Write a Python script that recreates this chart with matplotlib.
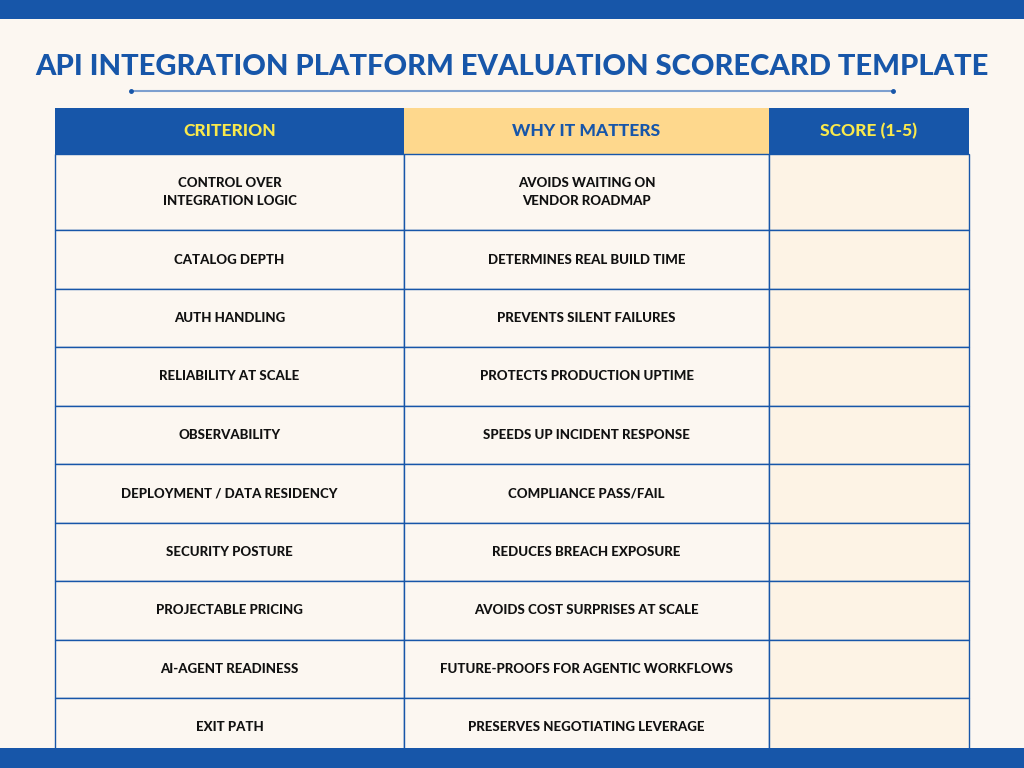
import matplotlib.pyplot as plt
from matplotlib.patches import Rectangle

title = "API INTEGRATION PLATFORM EVALUATION SCORECARD TEMPLATE"
headers = ["CRITERION", "WHY IT MATTERS", "SCORE (1-5)"]
criteria = ["CONTROL OVER\nINTEGRATION LOGIC", "CATALOG DEPTH", "AUTH HANDLING",
            "RELIABILITY AT SCALE", "OBSERVABILITY", "DEPLOYMENT / DATA RESIDENCY",
            "SECURITY POSTURE", "PROJECTABLE PRICING", "AI-AGENT READINESS", "EXIT PATH"]
reasons = ["AVOIDS WAITING ON\nVENDOR ROADMAP", "DETERMINES REAL BUILD TIME",
           "PREVENTS SILENT FAILURES", "PROTECTS PRODUCTION UPTIME",
           "SPEEDS UP INCIDENT RESPONSE", "COMPLIANCE PASS/FAIL",
           "REDUCES BREACH EXPOSURE", "AVOIDS COST SURPRISES AT SCALE",
           "FUTURE-PROOFS FOR AGENTIC WORKFLOWS", "PRESERVES NEGOTIATING LEVERAGE"]

BLUE = "#1756a9"
BG = "#fcf7f1"
col_x = [55, 404, 769, 969]
row_y = [108, 154, 230, 289, 347, 406, 464, 523, 581, 640, 698, 760]
fam = ["Lato", "DejaVu Sans"]

fig = plt.figure(figsize=(10.24, 7.68), dpi=100, facecolor=BG)
ax = fig.add_axes([0, 0, 1, 1])
ax.set_xlim(0, 1024)
ax.set_ylim(768, 0)
ax.axis("off")

ax.text(512, 67, title, ha="center", va="center", color=BLUE, fontsize=21,
        fontweight="black", family=fam)
ax.plot([131, 893], [91, 91], color="#7d9fcf", lw=1.5)
ax.plot([131, 893], [91, 91], "o", color=BLUE, ms=2.5)

# header
hdr_fill = [BLUE, "#fed88d", BLUE]
hdr_txt = ["#f9e94c", BLUE, "#f9e94c"]
for i, h in enumerate(headers):
    ax.add_patch(Rectangle((col_x[i], row_y[0]), col_x[i+1]-col_x[i], row_y[1]-row_y[0],
                           facecolor=hdr_fill[i], edgecolor="none"))
    ax.text((col_x[i]+col_x[i+1])/2, (row_y[0]+row_y[1])/2, h, ha="center", va="center",
            color=hdr_txt[i], fontsize=12.5, fontweight="black", family=fam)

# body
for r in range(len(criteria)):
    y0, y1 = row_y[r+1], row_y[r+2]
    for c in range(3):
        fill = "#fdf3e5" if c == 2 else BG
        ax.add_patch(Rectangle((col_x[c], y0), col_x[c+1]-col_x[c], y1-y0,
                               facecolor=fill, edgecolor=BLUE, lw=1))
    ym = (y0 + 58 / 2) if r == len(criteria)-1 else (y0+y1)/2
    for c, txt in enumerate([criteria[r], reasons[r]]):
        ax.text((col_x[c]+col_x[c+1])/2, ym, txt, ha="center", va="center",
                color="#111111", fontsize=9.5, fontweight="black", family=fam,
                linespacing=1.6)

ax.add_patch(Rectangle((0, 0), 1024, 19, facecolor=BLUE, edgecolor="none"))
ax.add_patch(Rectangle((0, 748), 1024, 20, facecolor=BLUE, edgecolor="none"))

fig.savefig("out.png", dpi=100, facecolor=BG)
